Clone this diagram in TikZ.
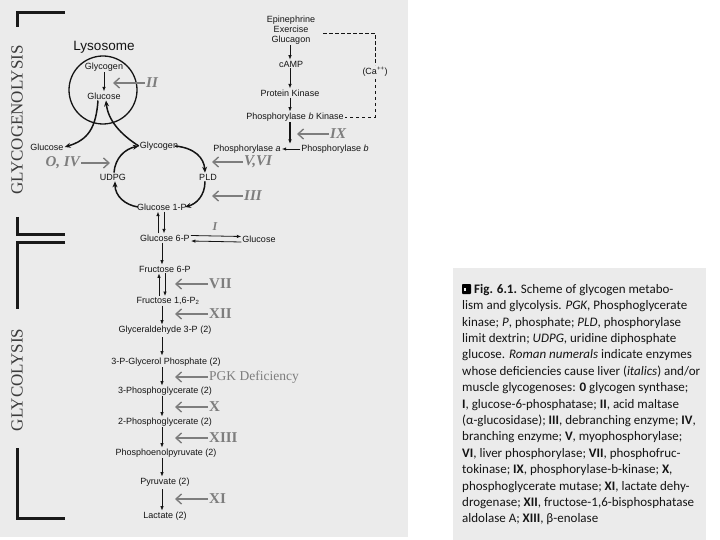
\documentclass[tikz,border=0pt]{standalone}
\usepackage{fontspec}
\setmainfont{Liberation Serif}
\setsansfont{Liberation Sans}
\newfontfamily\capfont{Carlito}
\usetikzlibrary{arrows.meta,calc}
\definecolor{bgc}{RGB}{235,235,235}
\definecolor{enz}{RGB}{125,125,125}
\definecolor{ink}{RGB}{20,20,20}
\definecolor{brk}{RGB}{25,25,25}
\tikzset{
  lbl/.style={font=\sffamily\fontsize{9}{10}\selectfont, text=ink, inner sep=1pt},
  enzI/.style={font=\rmfamily\bfseries\itshape\fontsize{15}{15}\selectfont, text=enz, inner sep=1pt},
  enzR/.style={font=\rmfamily\bfseries\fontsize{15}{15}\selectfont, text=enz, inner sep=1pt},
  enzP/.style={font=\rmfamily\fontsize{13.5}{14}\selectfont, text=enz, inner sep=1pt},
  parr/.style={draw=ink, line width=0.8pt, -{Latex[length=4.5pt,width=3.5pt]}},
  carr/.style={draw=ink, line width=1.5pt, -{Stealth[length=6pt,width=5pt]}},
  earr/.style={draw=enz, line width=1.4pt, -{Straight Barb[length=5.5pt,width=10pt]}},
  brack/.style={draw=brk, line width=3pt},
  dashline/.style={draw=ink, line width=0.8pt, dash pattern=on 3.5pt off 2.5pt},
  side/.style={font=\rmfamily\fontsize{17}{17}\selectfont, text=brk!85, rotate=90, inner sep=0pt}
}
\begin{document}
\begin{tikzpicture}[x=1pt,y=-1pt]
\useasboundingbox (0,0) rectangle (720,540);
\fill[white] (0,0) rectangle (720,540);
\fill[bgc] (0,0) rectangle (408,537);
\fill[bgc] (453,268) rectangle (706,540);

% brackets and side labels
\draw[brack] (17,27) -- (17,13) -- (65,13);
\draw[brack] (17,217) -- (17,234) -- (65,234);
\draw[brack] (65,242) -- (17,242) -- (17,309);
\draw[brack] (17,448) -- (17,518) -- (65,518);
\node[side] (sgl) at (17,120) {GLYCOGENOLYSIS};
\node[side] (sgy) at (17,380) {GLYCOLYSIS};

% lysosome
\node[lbl] (lyso) at (104,47) {\fontsize{13.5}{14}\selectfont Lysosome};
\draw[draw=ink, line width=1.3pt] (103,90) circle [radius=34];
\node[lbl] (lgly) at (104,67) {Glycogen};
\node[lbl] (lglu) at (104,96) {Glucose};
\draw[parr] (lgly) -- (lglu);

% glycogen cycle
\node[lbl] (glcout) at (47,147) {Glucose};
\node[lbl] (gly) at (159,146) {Glycogen};
\node[lbl] (udpg) at (113,177) {UDPG};
\node[lbl] (pld) at (208,177) {PLD};
\node[lbl] (g1p) at (162,207) {Glucose 1-P};
\draw[carr] ([xshift=-6pt]lglu.south) .. controls (96,128) and (88,140) .. (glcout.east);
\draw[carr] (gly.west) .. controls (120,134) and (108,120) .. ([xshift=2pt]lglu.south);
\draw[carr] ([xshift=-4pt]gly.east) .. controls (195,148) and (204,158) .. ([xshift=-3pt]pld.north);
\draw[carr] ([xshift=-3pt]pld.south) .. controls (205,196) and (196,204) .. ([xshift=-3pt]g1p.east);
\draw[carr] ([xshift=2pt]g1p.west) .. controls (125,205) and (115,196) .. ([xshift=2pt]udpg.south);
\draw[carr] ([xshift=1pt]udpg.north) .. controls (115,158) and (125,149) .. (gly.west);

% enzyme arrows (glycogen part)
\coordinate (tII) at (113,83);
\coordinate (tOIV) at (110,163);
\coordinate (tV) at (212,162);
\coordinate (tIII) at (212,196);
\coordinate (tIX) at (297,134);
\node[enzI, anchor=west] (eII) at (145,83) {II};
\node[enzI, anchor=east] (eOIV) at (81,163) {O, IV};
\node[enzI, anchor=west] (eV) at (243,162) {V,VI};
\node[enzI, anchor=west] (eIII) at (243,196) {III};
\node[enzI, anchor=west] (eIX) at (329,134) {IX};
\draw[earr] (eII.west) -- (tII);
\draw[earr] (eOIV.east) -- (tOIV);
\draw[earr] (eV.west) -- (tV);
\draw[earr] (eIII.west) -- (tIII);
\draw[earr] (eIX.west) -- (tIX);

% hormonal cascade
\node[lbl, align=center] (epi) at (291,30) {Epinephrine\\Exercise\\Glucagon};
\node[lbl] (camp) at (291,64) {cAMP};
\node[lbl] (pk) at (290,93) {Protein Kinase};
\node[lbl] (pbk) at (295,117) {Phosphorylase \textit{b} Kinase};
\node[lbl] (pa) at (247,149) {Phosphorylase \textit{a}};
\node[lbl] (pb) at (335,149) {Phosphorylase \textit{b}};
\node[lbl, fill=bgc, inner sep=2pt] (ca) at (375,72) {(Ca\textsuperscript{++})};
\coordinate (junc) at (290,144);
\draw[parr] ([xshift=-1pt]epi.south) -- ([xshift=-1pt]epi.south |- camp.north);
\draw[parr] (camp.south -| pk.south) -- (pk.north);
\draw[parr] (pk.south) -- (pk.south |- pbk.north);
\draw[parr, line width=1.3pt] (pbk.south -| pk.south) -- (junc);
\draw[parr] (pb.west) -- (pa.east);
\draw[dashline] ([shift={(7,3)}]epi.east) -| (ca.north);
\draw[dashline] (ca.south) |- (pbk.east);

% glycolysis
\node[lbl] (g6p) at (165,238) {Glucose 6-P};
\node[lbl] (glc2) at (259,239) {Glucose};
\node[lbl] (f6p) at (165,269) {Fructose 6-P};
\node[lbl] (f16) at (168,301) {Fructose 1,6-P\textsubscript{2}};
\node[lbl] (ga3p) at (165,330) {Glyceraldehyde 3-P (2)};
\node[lbl] (pgp) at (166,362) {3-P-Glycerol Phosphate (2)};
\node[lbl] (pg3) at (165,391) {3-Phosphoglycerate (2)};
\node[lbl] (pg2) at (165,422) {2-Phosphoglycerate (2)};
\node[lbl] (pep) at (166,453) {Phosphoenolpyruvate (2)};
\node[lbl] (pyr) at (165,482) {Pyruvate (2)};
\node[lbl] (lac) at (165,516) {Lactate (2)};

\coordinate (ax) at (162,0);
\coordinate (axa) at (158,0);
\coordinate (axb) at (164,0);
\coordinate (axc) at (159,0);
\coordinate (axd) at (165,0);
\draw[parr] (g6p.north -| axa) -- (g1p.south -| axa);
\draw[parr] (g1p.south -| axb) -- (g6p.north -| axb);
\draw[parr] ([yshift=2.5pt]g6p.east) -- ([yshift=2.5pt]glc2.west);
\draw[parr] ([yshift=-3pt]glc2.west) -- ([yshift=-3pt]g6p.east);
\draw[parr] (g6p.south -| ax) -- (f6p.north -| ax);
\draw[parr] (f16.north -| axc) -- (f6p.south -| axc);
\draw[parr] (f6p.south -| axd) -- (f16.north -| axd);
\draw[parr] (f16.south -| ax) -- (ga3p.north -| ax);
\draw[parr] ([yshift=-2pt]ga3p.south -| ax) -- ([yshift=1pt]pgp.north -| ax);
\draw[parr] (pgp.south -| ax) -- (pg3.north -| ax);
\draw[parr] (pg3.south -| ax) -- (pg2.north -| ax);
\draw[parr] (pg2.south -| ax) -- (pep.north -| ax);
\draw[parr] (pep.south -| ax) -- (pyr.north -| ax);
\draw[parr] ([yshift=-2pt]pyr.south -| ax) -- (lac.north -| ax);

% enzyme arrows (glycolysis)
\node[enzI, anchor=center, font=\rmfamily\bfseries\itshape\fontsize{12}{12}\selectfont] (eI) at (215,227) {I};
\node[enzR, anchor=west] (eVII) at (208,284) {VII};
\node[enzR, anchor=west] (eXII) at (208,314) {XII};
\node[enzP, anchor=west] (ePGK) at (208,377) {PGK Deficiency};
\node[enzR, anchor=west] (eX) at (208,407) {X};
\node[enzR, anchor=west] (eXIII) at (208,438) {XIII};
\node[enzR, anchor=west] (eXI) at (208,499) {XI};
\coordinate (tVII) at (175,284);
\coordinate (tXII) at (175,314);
\coordinate (tPGK) at (175,377);
\coordinate (tX) at (175,407);
\coordinate (tXIII) at (175,438);
\coordinate (tXI) at (175,499);
\draw[earr] (eVII.west) -- (tVII);
\draw[earr] (eXII.west) -- (tXII);
\draw[earr] (ePGK.west) -- (tPGK);
\draw[earr] (eX.west) -- (tX);
\draw[earr] (eXIII.west) -- (tXIII);
\draw[earr] (eXI.west) -- (tXI);

% caption
\fill[black, rounded corners=0.8pt] (462,284) rectangle (471,294);
\fill[bgc!70!white] (463.6,287.5) rectangle (466.4,291);
\node[anchor=north west, align=left, inner sep=0pt, text=ink,
      font=\capfont\fontsize{13}{16.4}\selectfont] (cap) at (462,284) {%
\hspace{12pt}\textbf{Fig. 6.1.} Scheme of glycogen metabo-\\
lism and glycolysis. \textit{PGK}, Phosphoglycerate\\
kinase; \textit{P}, phosphate; \textit{PLD}, phosphorylase\\
limit dextrin; \textit{UDPG}, uridine diphosphate\\
glucose. \textit{Roman numerals} indicate enzymes\\
whose deficiencies cause liver (\textit{italics}) and/or\\
muscle glycogenoses: \textbf{0} glycogen synthase;\\
\textbf{I}, glucose-6-phosphatase; \textbf{II}, acid maltase\\
(α-glucosidase); \textbf{III}, debranching enzyme; \textbf{IV},\\
branching enzyme; \textbf{V}, myophosphorylase;\\
\textbf{VI}, liver phosphorylase; \textbf{VII}, phosphofruc-\\
tokinase; \textbf{IX}, phosphorylase-b-kinase; \textbf{X},\\
phosphoglycerate mutase; \textbf{XI}, lactate dehy-\\
drogenase; \textbf{XII}, fructose-1,6-bisphosphatase\\
aldolase A; \textbf{XIII}, β-enolase};
\end{tikzpicture}
\end{document}
